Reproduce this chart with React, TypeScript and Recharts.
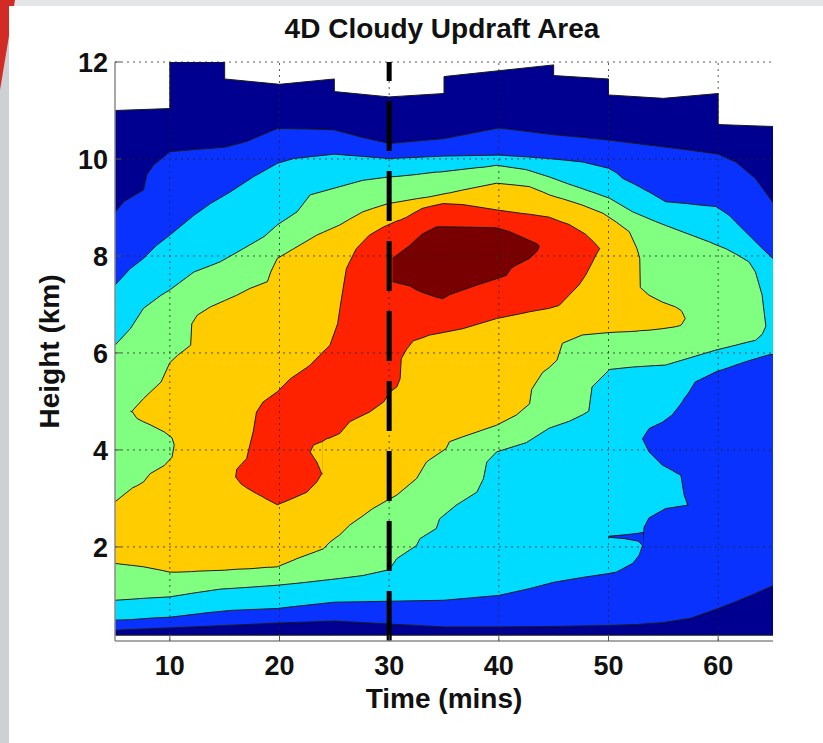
import { Area, ComposedChart, ReferenceLine, XAxis, YAxis } from 'recharts'

// axes
const timeTicks = [10, 20, 30, 40, 50, 60]
const heightTicks = [2, 4, 6, 8, 10, 12]
const stormTime = 30
const heightRange = [0.06, 12]

// each contour band: time (mins), lower and upper edge (km)
const navyT = [5, 10, 10, 15, 15, 20, 25, 25, 30, 35, 35, 40, 45, 45, 50, 50, 55, 60, 60, 65]
const navyLo = [0.18, 0.18, 0.18, 0.18, 0.18, 0.18, 0.18, 0.18, 0.18, 0.18, 0.18, 0.18, 0.18, 0.18, 0.18, 0.18, 0.18, 0.18, 0.18, 0.18]
const navyHi = [11.0, 11.04, 12, 12, 11.65, 11.54, 11.65, 11.39, 11.28, 11.35, 11.7, 11.82, 11.94, 11.72, 11.65, 11.32, 11.25, 11.35, 10.71, 10.67]

const blueT = [5, 5.8, 7.6, 7.9, 8.5, 10, 12.5, 15, 17, 19.8, 22.5, 25, 27.5, 30, 32.5, 35, 37.5, 40, 42.5, 45, 47.5, 50, 52.5, 55, 57.5, 60, 61.6, 63.4, 65]
const blueLo = [0.28, 0.29, 0.31, 0.31, 0.32, 0.33, 0.355, 0.38, 0.4, 0.43, 0.45, 0.47, 0.44, 0.41, 0.38, 0.35, 0.35, 0.35, 0.355, 0.36, 0.37, 0.38, 0.4, 0.44, 0.53, 0.73, 0.87, 1.04, 1.2]
const blueHi = [8.9, 9.12, 9.36, 9.67, 9.87, 10.15, 10.2, 10.24, 10.36, 10.63, 10.62, 10.6, 10.45, 10.32, 10.37, 10.42, 10.53, 10.64, 10.57, 10.5, 10.45, 10.39, 10.32, 10.25, 10.18, 10.1, 9.94, 9.6, 9.1]

const cyanT = [5, 6.4, 7.6, 8.8, 10, 12.2, 13.7, 15.5, 17.6, 19.8, 21.3, 25, 30, 35, 40, 42.8, 45, 47.6, 50, 50.7, 51.3, 52.2, 52.8, 53.1, 53.25, 53.7, 55.2, 57.2, 57.2, 57.9, 59.8, 61, 61.6, 62.8, 64, 64.6, 65]
const cyanLo = [0.49, 0.5, 0.52, 0.54, 0.55, 0.61, 0.65, 0.69, 0.71, 0.73, 0.77, 0.86, 0.88, 0.9, 1.0, 1.14, 1.27, 1.37, 1.45, 1.48, 1.55, 1.66, 1.83, 2.03, 2.41, 2.6, 2.79, 2.86, 5.14, 5.4, 5.61, 5.7, 5.75, 5.84, 5.92, 5.96, 5.97]
const cyanHi = [7.4, 7.74, 7.95, 8.22, 8.43, 8.84, 9.08, 9.32, 9.63, 9.91, 10.01, 10.1, 10.01, 10.06, 10.08, 10.04, 10.0, 9.94, 9.81, 9.72, 9.6, 9.5, 9.43, 9.39, 9.37, 9.32, 9.12, 9.08, 9.08, 9.06, 9.02, 8.84, 8.7, 8.43, 8.16, 8.03, 7.95]

// blue tongues cutting into the cyan band on the right
const fingerT = [50, 51.5, 52.7, 53.15]
const fingerLo = [2.2, 2.17, 2.12, 2.02]
const fingerHi = [2.22, 2.25, 2.28, 2.3]

const noseT = [53.1, 53.7, 54.9, 55.8, 56.4, 56.6, 56.75, 56.9, 57.25]
const noseLo = [4.23, 3.96, 3.69, 3.58, 3.5, 3.48, 3.27, 3.07, 2.85]
const noseHi = [4.23, 4.44, 4.57, 4.72, 4.89, 4.95, 5.0, 5.06, 5.16]

const greenT = [5, 6.4, 7.6, 9.2, 10, 12.2, 13.7, 14.6, 16.7, 18.6, 19.8, 21.6, 22.8, 25.5, 27.6, 30, 30.7, 32.5, 32.8, 34.3, 34.6, 36.1, 38, 38.6, 38.9, 39.8, 42.5, 44.6, 46.4, 47.6, 48.2, 48.5, 50.1, 52.2, 54.3, 55.2, 59.2, 59.8, 60.7, 61.6, 62.8, 63.4, 64, 64.35]
const greenLo = [0.9, 0.92, 0.94, 0.96, 0.97, 1.05, 1.1, 1.13, 1.16, 1.19, 1.21, 1.25, 1.28, 1.35, 1.41, 1.53, 1.76, 2.03, 2.17, 2.38, 2.58, 2.86, 3.13, 3.41, 3.75, 3.96, 4.15, 4.45, 4.59, 4.72, 4.8, 5.3, 5.66, 5.71, 5.74, 5.75, 6.02, 6.06, 6.11, 6.16, 6.23, 6.26, 6.38, 6.55]
const greenHi = [6.16, 6.5, 6.92, 7.19, 7.3, 7.67, 7.8, 7.88, 8.15, 8.4, 8.64, 8.91, 9.26, 9.43, 9.56, 9.63, 9.64, 9.68, 9.69, 9.73, 9.73, 9.77, 9.82, 9.83, 9.84, 9.87, 9.78, 9.63, 9.48, 9.39, 9.34, 9.32, 9.19, 8.91, 8.71, 8.63, 8.29, 8.23, 8.15, 8.04, 7.88, 7.67, 7.2, 6.55]

const yellowT = [5, 6.1, 6.5, 6.55, 7.6, 9.2, 10, 10.7, 11.9, 12.0, 12.5, 13.7, 15, 16.1, 17.3, 18.9, 19.2, 19.8, 21.3, 21.6, 23.4, 24, 24.6, 25.5, 26.4, 27.6, 28.5, 29.9, 30.7, 32.5, 33.4, 33.7, 35.2, 35.5, 36.7, 39.8, 41.6, 42.8, 43.0, 44.0, 44.6, 45.3, 45.8, 47.6, 49.5, 50.7, 51.9, 52.6, 52.85, 52.9, 53.7, 54.9, 56.1, 56.6, 56.7, 57.0]
const yellowLo = [1.66, 1.63, 1.62, 1.62, 1.59, 1.52, 1.48, 1.48, 1.49, 1.49, 1.5, 1.51, 1.52, 1.54, 1.55, 1.58, 1.58, 1.59, 1.73, 1.76, 1.91, 1.96, 2.1, 2.25, 2.45, 2.64, 2.79, 2.97, 3.07, 3.41, 3.75, 3.8, 4.03, 4.17, 4.27, 4.51, 4.72, 4.95, 5.25, 5.6, 5.7, 5.85, 6.2, 6.37, 6.41, 6.43, 6.44, 6.45, 6.46, 6.46, 6.47, 6.5, 6.54, 6.57, 6.6, 6.71]
const yellowHi = [2.93, 3.13, 3.2, 4.8, 5.06, 5.4, 5.8, 5.95, 6.16, 6.6, 6.78, 6.95, 7.08, 7.19, 7.33, 7.47, 7.67, 7.95, 8.15, 8.19, 8.43, 8.49, 8.55, 8.64, 8.76, 8.91, 8.98, 9.08, 9.11, 9.18, 9.21, 9.22, 9.29, 9.3, 9.36, 9.5, 9.46, 9.43, 9.41, 9.32, 9.26, 9.21, 9.18, 9.05, 8.88, 8.7, 8.5, 8.15, 7.95, 7.35, 7.19, 7.05, 6.95, 6.88, 6.85, 6.71]

// green pocket on the left side of the yellow band
const pocketT = [6.4, 6.6, 7.0, 7.6, 8.2, 9.5, 10.2, 10.4]
const pocketLo = [3.18, 3.22, 3.26, 3.34, 3.51, 3.68, 3.85, 4.1]
const pocketHi = [4.8, 4.78, 4.65, 4.58, 4.52, 4.37, 4.25, 4.1]

const redT = [16.0, 16.1, 16.5, 17.0, 17.3, 17.6, 17.9, 18.5, 18.7, 19.8, 21.0, 22.5, 22.8, 23.4, 23.85, 23.86, 24.3, 24.6, 25.3, 25.5, 25.8, 26.1, 26.4, 27.0, 28.2, 29.5, 29.9, 30.1, 30.7, 31.0, 31.1, 31.6, 32.2, 33.0, 33.7, 34.9, 36.7, 37.0, 39.8, 42.0, 42.8, 44.6, 45.5, 46.4, 47.3, 47.9, 48.6, 48.85, 49.2]
const redLo = [3.44, 3.41, 3.3, 3.22, 3.18, 3.14, 3.1, 3.03, 3.0, 2.87, 2.98, 3.13, 3.2, 3.34, 3.51, 4.17, 4.23, 4.25, 4.32, 4.34, 4.42, 4.5, 4.58, 4.65, 4.78, 4.99, 5.13, 5.2, 5.3, 5.47, 5.88, 6.08, 6.25, 6.31, 6.37, 6.42, 6.5, 6.52, 6.71, 6.81, 6.85, 6.92, 6.98, 7.19, 7.4, 7.6, 7.9, 8.02, 8.15]
const redHi = [3.44, 3.6, 3.7, 3.82, 4.1, 4.37, 4.78, 4.99, 5.02, 5.2, 5.47, 5.7, 5.75, 5.89, 5.99, 6.0, 6.09, 6.16, 6.6, 6.9, 7.33, 7.74, 7.88, 8.15, 8.43, 8.6, 8.64, 8.66, 8.72, 8.74, 8.75, 8.8, 8.88, 8.98, 9.02, 9.08, 9.06, 9.05, 8.95, 8.88, 8.86, 8.8, 8.72, 8.65, 8.53, 8.45, 8.3, 8.24, 8.15]

// small yellow notch on the right of the lower red lobe
const notchT = [22.8, 23.1, 23.4, 23.85, 23.93]
const notchLo = [3.96, 3.85, 3.75, 3.51, 3.51]
const notchHi = [3.96, 4.1, 4.13, 4.17, 4.17]

const darkT = [30.3, 31.9, 32.5, 33.0, 34.3, 34.9, 35.5, 38.0, 39.8, 40.7, 41.1, 41.5, 42.8, 43.5, 43.7]
const darkLo = [7.47, 7.38, 7.3, 7.25, 7.15, 7.12, 7.2, 7.4, 7.53, 7.6, 7.74, 7.8, 7.95, 8.1, 8.2]
const darkHi = [7.95, 8.22, 8.35, 8.45, 8.6, 8.6, 8.6, 8.59, 8.58, 8.52, 8.49, 8.45, 8.32, 8.25, 8.2]

const palette = {
  navy: '#000090',
  blue: '#0a32ff',
  cyan: '#00dcff',
  green: '#80ff80',
  yellow: '#ffcc00',
  red: '#ff2200',
  darkRed: '#780000',
  edge: '#1a1a1a',
  grid: '#222',
  text: '#111',
}

type Band = { t: number; lo: number; hi: number }
const band = (t: number[], lo: number[], hi: number[]): Band[] => t.map((x, i) => ({ t: x, lo: lo[i], hi: hi[i] }))
const span = (d: Band) => [d.lo, d.hi]

// painted in this order, inner levels over outer ones
const layers = [
  { id: 'navy', data: band(navyT, navyLo, navyHi), fill: palette.navy },
  { id: 'blue', data: band(blueT, blueLo, blueHi), fill: palette.blue },
  { id: 'cyan', data: band(cyanT, cyanLo, cyanHi), fill: palette.cyan },
  { id: 'finger', data: band(fingerT, fingerLo, fingerHi), fill: palette.blue },
  { id: 'nose', data: band(noseT, noseLo, noseHi), fill: palette.blue },
  { id: 'green', data: band(greenT, greenLo, greenHi), fill: palette.green },
  { id: 'yellow', data: band(yellowT, yellowLo, yellowHi), fill: palette.yellow },
  { id: 'pocket', data: band(pocketT, pocketLo, pocketHi), fill: palette.green },
  { id: 'red', data: band(redT, redLo, redHi), fill: palette.red },
  { id: 'notch', data: band(notchT, notchLo, notchHi), fill: palette.yellow },
  { id: 'dark', data: band(darkT, darkLo, darkHi), fill: palette.darkRed },
]

const font = '"Liberation Sans", Arial, Helvetica, sans-serif'
const tickStyle = { fontSize: 27, fontWeight: 700, fill: palette.text, fontFamily: font }
const labelStyle = { fontSize: 28, fontWeight: 700, fill: palette.text, fontFamily: font, textAnchor: 'middle' as const }

export default function App() {
  return (
    <div style={{ position: 'absolute', left: 0, top: 0, width: 823, height: 743, background: '#e3e5e7', overflow: 'hidden', fontFamily: font }}>
      <div style={{ position: 'absolute', left: 0, top: 0, width: 9, height: 743, background: '#cdd1d3' }} />
      <div style={{ position: 'absolute', left: 0, top: 0, width: 15, height: 90, background: '#d22b26', clipPath: 'polygon(0 0, 100% 0, 0 100%)' }} />
      <div style={{ position: 'absolute', left: 9, top: 6, width: 814, height: 737, background: '#fff' }} />
      <div
        style={{
          position: 'absolute',
          top: 15,
          left: 442,
          transform: 'translateX(-50%)',
          fontSize: 28,
          lineHeight: '28px',
          fontWeight: 700,
          whiteSpace: 'nowrap',
          color: palette.text,
        }}
      >
        4D Cloudy Updraft Area
      </div>
      <ComposedChart
        width={823}
        height={743}
        margin={{ top: 62, right: 50, bottom: 0, left: 0 }}
        style={{ position: 'absolute', left: 0, top: 0 }}
      >
        <XAxis
          type="number"
          dataKey="t"
          domain={[5, 65]}
          ticks={timeTicks}
          allowDataOverflow
          height={102}
          tick={tickStyle}
          tickSize={-6}
          tickMargin={21}
          axisLine={{ stroke: '#8a8a8a', strokeWidth: 1.5 }}
          tickLine={{ stroke: '#555' }}
          label={{ value: 'Time (mins)', position: 'insideBottom', offset: 35, style: labelStyle }}
        />
        <YAxis
          type="number"
          domain={heightRange}
          ticks={heightTicks}
          allowDataOverflow
          width={115}
          tick={tickStyle}
          tickSize={-6}
          tickMargin={13}
          axisLine={{ stroke: '#8a8a8a', strokeWidth: 1.5 }}
          tickLine={{ stroke: '#555' }}
          label={{ value: 'Height (km)', angle: -90, position: 'insideLeft', offset: 49, style: labelStyle }}
        />
        {layers.map((layer) => (
          <Area
            key={layer.id}
            data={layer.data}
            dataKey={span}
            type="linear"
            fill={layer.fill}
            fillOpacity={1}
            stroke={palette.edge}
            strokeWidth={1}
            dot={false}
            activeDot={false}
            isAnimationActive={false}
          />
        ))}
        {/* dotted grid drawn over the filled contours */}
        {timeTicks.map((t) => (
          <ReferenceLine key={`gx${t}`} x={t} stroke={palette.grid} strokeOpacity={0.75} strokeDasharray="2 4" />
        ))}
        {heightTicks.map((h) => (
          <ReferenceLine key={`gy${h}`} y={h} stroke={palette.grid} strokeOpacity={0.75} strokeDasharray="2 4" />
        ))}
        <ReferenceLine
          segment={[
            { x: stormTime, y: heightRange[0] },
            { x: stormTime, y: heightRange[1] },
          ]}
          stroke="#000"
          strokeWidth={5}
          strokeDasharray="50 20"
        />
      </ComposedChart>
    </div>
  )
}
